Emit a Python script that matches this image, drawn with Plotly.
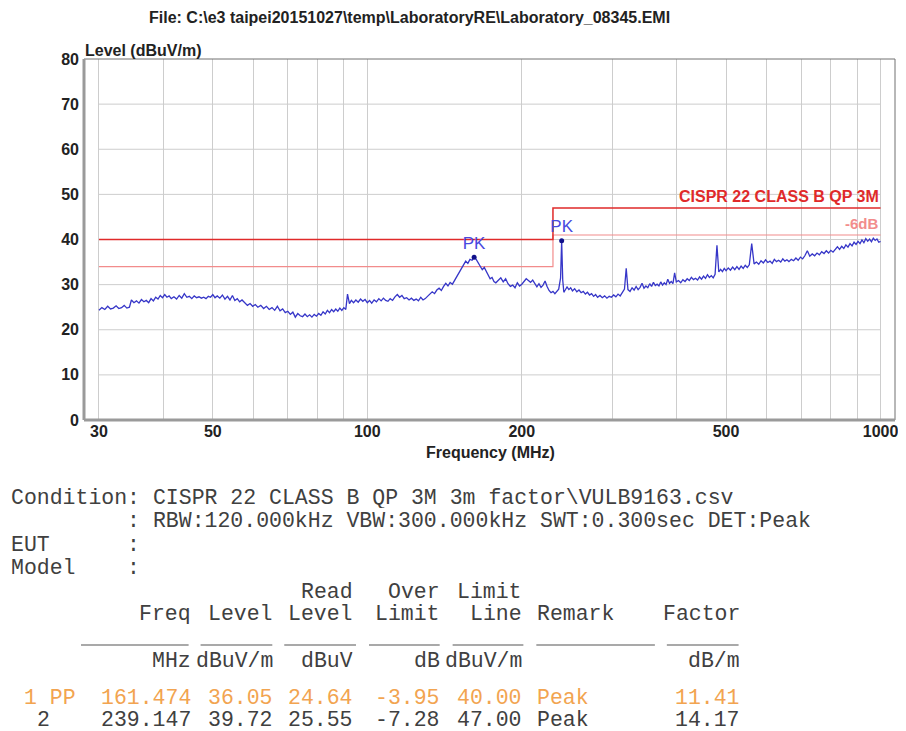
import math
import plotly.graph_objects as go

# ---------------- data ----------------
freq_mhz = [30.0, 30.4, 30.8, 31.2, 31.6, 32.0, 32.4, 32.8, 33.2, 33.6, 34.0, 34.4,
            34.7, 35.1, 35.5, 35.9, 36.3, 36.7, 37.1, 37.5, 37.9, 38.3, 38.7, 39.1,
            39.5, 39.9, 40.3, 40.7, 41.1, 41.5, 42.0, 42.5, 43.0, 43.5, 44.0, 44.5,
            45.0, 45.5, 46.0, 46.5, 47.0, 47.5, 48.0, 48.5, 49.0, 49.5, 50.0, 50.5,
            51.0, 51.6, 52.2, 52.8, 53.4, 54.0, 54.6, 55.2, 55.8, 56.4, 57.0, 57.7,
            58.4, 59.1, 59.8, 60.5, 61.2, 62.0, 62.8, 63.6, 64.4, 65.2, 66.0, 66.8,
            67.6, 68.4, 69.2, 70.0, 70.8, 71.6, 72.4, 73.2, 74.0, 74.8, 75.6, 76.4,
            77.2, 78.0, 78.8, 79.6, 80.4, 81.2, 82.0, 82.8, 83.6, 84.4, 85.2, 86.0,
            86.8, 87.6, 88.4, 89.2, 90.0, 90.8, 91.5, 92.3, 93.1, 94.0, 95.0, 96.0,
            97.0, 98.0, 99.0, 100.0, 101.0, 102.0, 103.1, 104.2, 105.3, 106.4, 107.5,
            108.6, 109.7, 110.8, 112.0, 113.2, 114.4, 115.6, 116.8, 118.0, 119.3,
            120.6, 121.9, 123.2, 124.5, 125.8, 127.1, 128.4, 129.7, 131.0, 132.4,
            133.8, 135.2, 136.6, 138.0, 139.4, 140.8, 142.2, 143.6, 145.0, 146.5,
            148.0, 149.5, 151.0, 152.5, 154.0, 155.5, 157.0, 158.5, 160.0, 161.474,
            163.0, 164.5, 166.0, 167.5, 169.0, 170.5, 172.0, 173.5, 175.0, 176.5,
            178.0, 180.0, 182.0, 184.0, 186.0, 188.0, 190.0, 192.0, 194.0, 196.0,
            198.0, 200.0, 202.0, 204.0, 206.0, 208.0, 210.0, 212.0, 214.0, 216.0,
            218.0, 220.0, 222.0, 224.0, 226.0, 228.0, 230.0, 232.0, 234.0, 236.0,
            238.0, 239.147, 240.3, 241.5, 243.0, 245.0, 247.0, 249.0, 251.0, 253.5,
            256.0, 258.5, 261.0, 263.5, 266.0, 268.5, 271.0, 273.5, 276.0, 278.5,
            281.0, 284.0, 287.0, 290.0, 293.0, 296.0, 299.0, 302.0, 305.0, 308.0,
            311.0, 314.0, 317.0, 319.5, 322.0, 325.0, 328.0, 331.0, 334.0, 337.0,
            340.0, 343.0, 346.0, 349.0, 352.0, 355.0, 358.0, 361.0, 364.0, 367.0,
            370.0, 373.0, 376.0, 379.0, 382.0, 385.0, 388.0, 391.0, 394.0, 397.0,
            400.0, 404.0, 408.0, 412.0, 416.0, 420.0, 424.0, 428.0, 432.0, 436.0,
            440.0, 444.0, 448.0, 452.0, 456.0, 460.0, 464.0, 468.0, 472.0, 476.0,
            480.0, 484.0, 488.0, 492.0, 496.0, 500.0, 505.0, 510.0, 515.0, 520.0,
            525.0, 530.0, 535.0, 540.0, 545.0, 550.0, 555.0, 561.0, 567.0, 573.0,
            579.0, 585.0, 591.0, 597.0, 603.0, 609.0, 615.0, 621.0, 627.0, 633.0,
            639.0, 645.0, 651.0, 657.0, 663.0, 670.0, 677.0, 684.0, 691.0, 698.0,
            705.0, 712.0, 720.0, 728.0, 736.0, 744.0, 752.0, 760.0, 768.0, 776.0,
            784.0, 792.0, 800.0, 808.0, 816.0, 824.0, 832.0, 840.0, 848.0, 856.0,
            864.0, 872.0, 880.0, 888.0, 896.0, 904.0, 912.0, 920.0, 928.0, 936.0,
            944.0, 952.0, 960.0, 968.0, 976.0, 984.0, 992.0, 1000.0]

level_dbuv = [24.3, 24.9, 24.5, 25.2, 24.6, 24.8, 25.3, 24.7, 24.9, 25.4, 24.8, 25.0,
              26.6, 26.0, 26.4, 25.9, 26.7, 26.2, 26.5, 26.0, 26.9, 26.4, 27.2, 26.8,
              27.6, 27.1, 27.8, 27.2, 27.5, 26.9, 27.3, 26.8, 27.6, 27.0, 28.0, 27.2,
              27.4, 26.9, 27.5, 27.1, 27.3, 27.0, 27.2, 26.9, 27.4, 27.2, 27.8, 27.1,
              27.5, 27.0, 27.7, 26.8, 27.4, 26.6, 27.6, 26.5, 26.9, 26.2, 26.6, 25.9,
              25.4, 25.8, 25.2, 25.6, 25.0, 25.4, 24.7, 25.2, 24.5, 24.9, 24.3, 25.2,
              24.2, 24.6, 23.8, 24.1, 23.4, 23.9, 22.8, 23.6, 23.1, 22.9, 23.5, 22.9,
              23.3, 22.8, 23.4, 23.0, 23.6, 23.2, 24.0, 23.5, 24.3, 23.8, 24.5, 24.0,
              24.6, 24.1, 24.8, 24.3, 24.9, 24.5, 27.9, 25.8, 26.5, 26.0, 26.6, 26.1,
              26.8, 26.3, 26.7, 26.0, 26.5, 25.9, 26.6, 26.2, 26.9, 26.4, 27.0,
              26.5, 26.3, 26.9, 26.5, 27.3, 27.8, 27.2, 27.6, 26.9, 27.1,
              26.6, 27.0, 26.5, 26.8, 26.4, 27.2, 26.6, 26.9, 27.4, 28.0,
              28.4, 28.0, 28.8, 29.2, 28.7, 29.6, 30.3, 29.7, 30.5, 30.1,
              31.0, 31.8, 32.6, 33.5, 34.6, 35.2, 34.7, 35.6, 35.4, 36.05,
              35.6, 34.8, 34.2, 33.3, 33.8, 32.9, 32.2, 31.3, 31.6, 30.7,
              30.4, 30.9, 31.5, 30.6, 31.3, 30.2, 29.6, 29.9, 29.3, 30.4,
              29.7, 30.1, 30.8, 31.3, 30.9, 30.5, 31.0, 30.3, 29.5, 30.2,
              29.4, 29.9, 30.8, 29.6, 28.7, 28.2, 28.5, 28.0, 28.4, 29.0,
              31.5, 39.72, 31.0, 28.3, 28.8, 29.5, 28.9, 29.3, 28.6, 29.1,
              28.4, 28.8, 28.2, 28.5, 27.9, 28.3, 27.7, 28.0, 27.4, 27.8,
              27.2, 27.6, 27.1, 27.5, 27.0, 27.4, 27.2, 27.7, 27.3, 27.9,
              27.5, 28.3, 29.0, 33.6, 28.9, 28.5, 29.3, 28.8, 29.6, 28.9,
              29.4, 30.3, 29.2, 29.7, 29.3, 30.2, 29.6, 30.5, 29.8, 30.1,
              29.7, 30.6, 29.9, 30.4, 30.0, 31.2, 30.3, 30.7, 30.2, 32.6,
              30.6, 30.9, 30.4, 31.1, 30.7, 31.3, 30.9, 31.6, 31.1, 31.4,
              31.0, 31.7, 31.2, 31.9, 31.4, 32.2, 31.6, 32.0, 31.5, 32.3,
              38.7, 32.8, 33.4, 32.9, 33.6, 33.1, 33.7, 33.2, 33.9, 33.3,
              34.0, 33.4, 34.1, 33.6, 34.3, 33.8, 34.4, 39.1, 34.6, 35.0,
              34.5, 35.3, 34.8, 35.5, 34.9, 35.2, 34.7, 35.6, 35.1, 35.4,
              35.0, 35.7, 35.2, 35.5, 35.1, 35.6, 35.3, 35.9, 35.4, 36.1,
              35.7, 36.4, 37.5, 36.3, 36.8, 36.4, 37.0, 36.6, 37.3, 36.9,
              37.5, 37.0, 37.6, 37.2, 37.9, 38.4, 37.8, 38.5, 38.0, 38.8,
              38.3, 39.1, 38.6, 39.4, 38.9, 39.6, 39.1, 39.9, 39.3, 40.2,
              39.6, 40.1, 39.5, 40.3, 39.8, 40.1, 39.4, 39.6]

limit_freq = [30, 230, 1000]
limit_qp = [40, 47, 47]
limit_6db = [34, 41, 41]

peak_freq = [161.474, 239.147]
peak_level = [36.05, 39.72]
peak_label = ["PK", "PK"]

y_ticks = [0, 10, 20, 30, 40, 50, 60, 70, 80]
x_grid = [30, 40, 50, 60, 70, 80, 90, 100, 200, 300, 400, 500, 600, 700, 800, 900, 1000]
x_labels = ["30", "", "50", "", "", "", "", "100", "200", "", "", "500", "", "", "", "", "1000"]

title_text = "File: C:\\e3 taipei20151027\\temp\\LaboratoryRE\\Laboratory_08345.EMI"
limit_name = "CISPR 22 CLASS B QP 3M"
margin_name = "-6dB"

cond_lines = [
    "Condition: CISPR 22 CLASS B QP 3M 3m factor\\VULB9163.csv",
    "         : RBW:120.000kHz VBW:300.000kHz SWT:0.300sec DET:Peak",
    "EUT      :",
    "Model    :",
]
table_top = ["", "", "Read", "Over", "Limit", "", ""]
table_head = ["Freq", "Level", "Level", "Limit", "Line", "Remark", "Factor"]
table_units = ["MHz", "dBuV/m", "dBuV", "dB", "dBuV/m", "", "dB/m"]
row_no = ["1 PP", "2"]
row_freq = [161.474, 239.147]
row_level = [36.05, 39.72]
row_read = [24.64, 25.55]
row_over = [-3.95, -7.28]
row_limit = [40.00, 47.00]
row_remark = ["Peak", "Peak"]
row_factor = [11.41, 14.17]

# ---------------- layout geometry (page pixels; body margin = 8px) ----------------
OFF = 8
W, H = 906 - OFF, 731 - OFF
PLOT_L, PLOT_R, PLOT_T, PLOT_B = 84, 898, 59, 420  # page pixel frame
ML = PLOT_L - OFF
MT = PLOT_T - OFF
MR = W - (PLOT_R - OFF)
MB = H - (PLOT_B - OFF)
PW = W - ML - MR
PH = H - MT - MB


def px_x(px):
    return (px - PLOT_L) / PW


def px_y(py):
    return (PLOT_B - py) / PH


x_lo = math.log10(30) - 15 / 515.0
x_hi = math.log10(1000) + 14.5 / 515.0

SANS = "Liberation Sans, Arial, sans-serif"
MONO = "Liberation Mono, Courier New, monospace"
INK = "#222222"
TXT = "#404040"

fig = go.Figure()

# horizontal grid lines (only across the data span 30..1000 MHz)
gx, gy = [], []
for v in y_ticks[1:-1]:
    gx += [x_grid[0], x_grid[-1], None]
    gy += [v, v, None]
fig.add_trace(go.Scatter(x=gx, y=gy, mode="lines", line=dict(color="#cdcdcd", width=1),
                         hoverinfo="skip", showlegend=False))

# limit lines
fig.add_trace(go.Scatter(x=limit_freq, y=limit_6db, mode="lines", line_shape="hv",
                         line=dict(color="#f28c8c", width=1.2), showlegend=False))
fig.add_trace(go.Scatter(x=limit_freq, y=limit_qp, mode="lines", line_shape="hv",
                         line=dict(color="#e02a2a", width=1.5), showlegend=False))

# measured trace
fig.add_trace(go.Scatter(x=freq_mhz, y=level_dbuv, mode="lines",
                         line=dict(color="#3636c8", width=1.3), showlegend=False))

# peaks
fig.add_trace(go.Scatter(x=peak_freq, y=peak_level, mode="markers+text", text=peak_label,
                         textposition="top center",
                         textfont=dict(family=SANS, size=17, color="#4848e0"),
                         marker=dict(color="#10108a", size=5), showlegend=False))

fig.update_xaxes(type="log", range=[x_lo, x_hi], tickvals=x_grid, ticktext=x_labels,
                 showgrid=True, gridcolor="#cdcdcd", gridwidth=1, zeroline=False,
                 showline=False, ticks="", ticklen=0,
                 tickfont=dict(family=SANS, size=16, color=INK, weight="bold"))
fig.update_yaxes(range=[0, 80], tickvals=y_ticks, showgrid=False, zeroline=False,
                 showline=False, ticks="", ticklen=0, ticklabelstandoff=4,
                 tickfont=dict(family=SANS, size=16, color=INK, weight="bold"))

# frame: thin top/right, thick grey left/bottom
fig.add_shape(type="rect", xref="paper", yref="paper", x0=0, x1=1, y0=0, y1=1,
              line=dict(color="#707070", width=1), layer="above")
fig.add_shape(type="line", xref="paper", yref="paper", x0=0, x1=0, y0=0, y1=1,
              line=dict(color="#9a9a9a", width=3), layer="above")
fig.add_shape(type="line", xref="paper", yref="paper", x0=0, x1=1, y0=0, y1=0,
              line=dict(color="#9a9a9a", width=3), layer="above")

ann = []
ann.append(dict(text=title_text, xref="paper", yref="paper", x=px_x(411), y=px_y(18),
                xanchor="center", yanchor="middle", showarrow=False,
                font=dict(family=SANS, size=16, color=INK, weight="bold")))
ann.append(dict(text="Level (dBuV/m)", xref="paper", yref="paper", x=px_x(83), y=px_y(50),
                xanchor="left", yanchor="middle", showarrow=False,
                font=dict(family=SANS, size=16, color=INK, weight="bold")))
ann.append(dict(text="Frequency (MHz)", xref="paper", yref="paper", x=px_x(492), y=px_y(452),
                xanchor="center", yanchor="middle", showarrow=False,
                font=dict(family=SANS, size=16, color=INK, weight="bold")))
ann.append(dict(text=limit_name, xref="x", yref="y", x=math.log10(limit_freq[-1]), y=limit_qp[-1],
                xanchor="right", yanchor="bottom", yshift=1, showarrow=False,
                font=dict(family=SANS, size=16, color="#e02a2a", weight="bold")))
ann.append(dict(text=margin_name, xref="x", yref="y", x=math.log10(limit_freq[-1]), y=limit_6db[-1],
                xanchor="right", yanchor="bottom", yshift=1, showarrow=False,
                font=dict(family=SANS, size=15, color="#f28c8c", weight="bold")))

MONO_DY = 1


def mono(txt, px, py, anchor="left", color=TXT):
    ann.append(dict(text=txt.replace(" ", "\u00a0"), xref="paper", yref="paper",
                    x=px_x(px), y=px_y(py + MONO_DY), xanchor=anchor, yanchor="middle",
                    height=20, borderpad=0, valign="middle",
                    showarrow=False, font=dict(family=MONO, size=21.5, color=color)))


line_y = [497, 520, 544, 567]
for t, yy in zip(cond_lines, line_y):
    mono(t, 10, yy)

col_right = [192, 275, 355, 442, 525, None, 743]
remark_left = 538
y_top, y_head, y_rule, y_units = 591, 613, 645, 660
row_y = [697, 719]
row_col = ["#f2a450", TXT]


def put_cell(txt, ci, yy, color=TXT):
    if not txt:
        return
    if col_right[ci] is None:
        mono(txt, remark_left, yy, "left", color)
    else:
        mono(txt, col_right[ci], yy, "right", color)


for ci in range(7):
    put_cell(table_top[ci], ci, y_top)
    put_cell(table_head[ci], ci, y_head)
    put_cell(table_units[ci], ci, y_units)

rule_segs = [(81, 189), (201, 273), (285, 357), (370, 441), (454, 525), (538, 657), (669, 741)]
for a, b in rule_segs:
    fig.add_shape(type="line", xref="paper", yref="paper", x0=px_x(a), x1=px_x(b),
                  y0=px_y(y_rule), y1=px_y(y_rule), line=dict(color="#555555", width=1.2))

row_no_x = [23, 36]
for i in range(2):
    c = row_col[i]
    yy = row_y[i]
    mono(row_no[i], row_no_x[i], yy, "left", c)
    put_cell(f"{row_freq[i]:.3f}", 0, yy, c)
    put_cell(f"{row_level[i]:.2f}", 1, yy, c)
    put_cell(f"{row_read[i]:.2f}", 2, yy, c)
    put_cell(f"{row_over[i]:.2f}", 3, yy, c)
    put_cell(f"{row_limit[i]:.2f}", 4, yy, c)
    put_cell(row_remark[i], 5, yy, c)
    put_cell(f"{row_factor[i]:.2f}", 6, yy, c)

fig.update_layout(width=W, height=H, margin=dict(l=ML, r=MR, t=MT, b=MB, pad=0),
                  paper_bgcolor="white", plot_bgcolor="white", annotations=ann,
                  showlegend=False)

fig.write_html("out.html", config={"displayModeBar": False})
